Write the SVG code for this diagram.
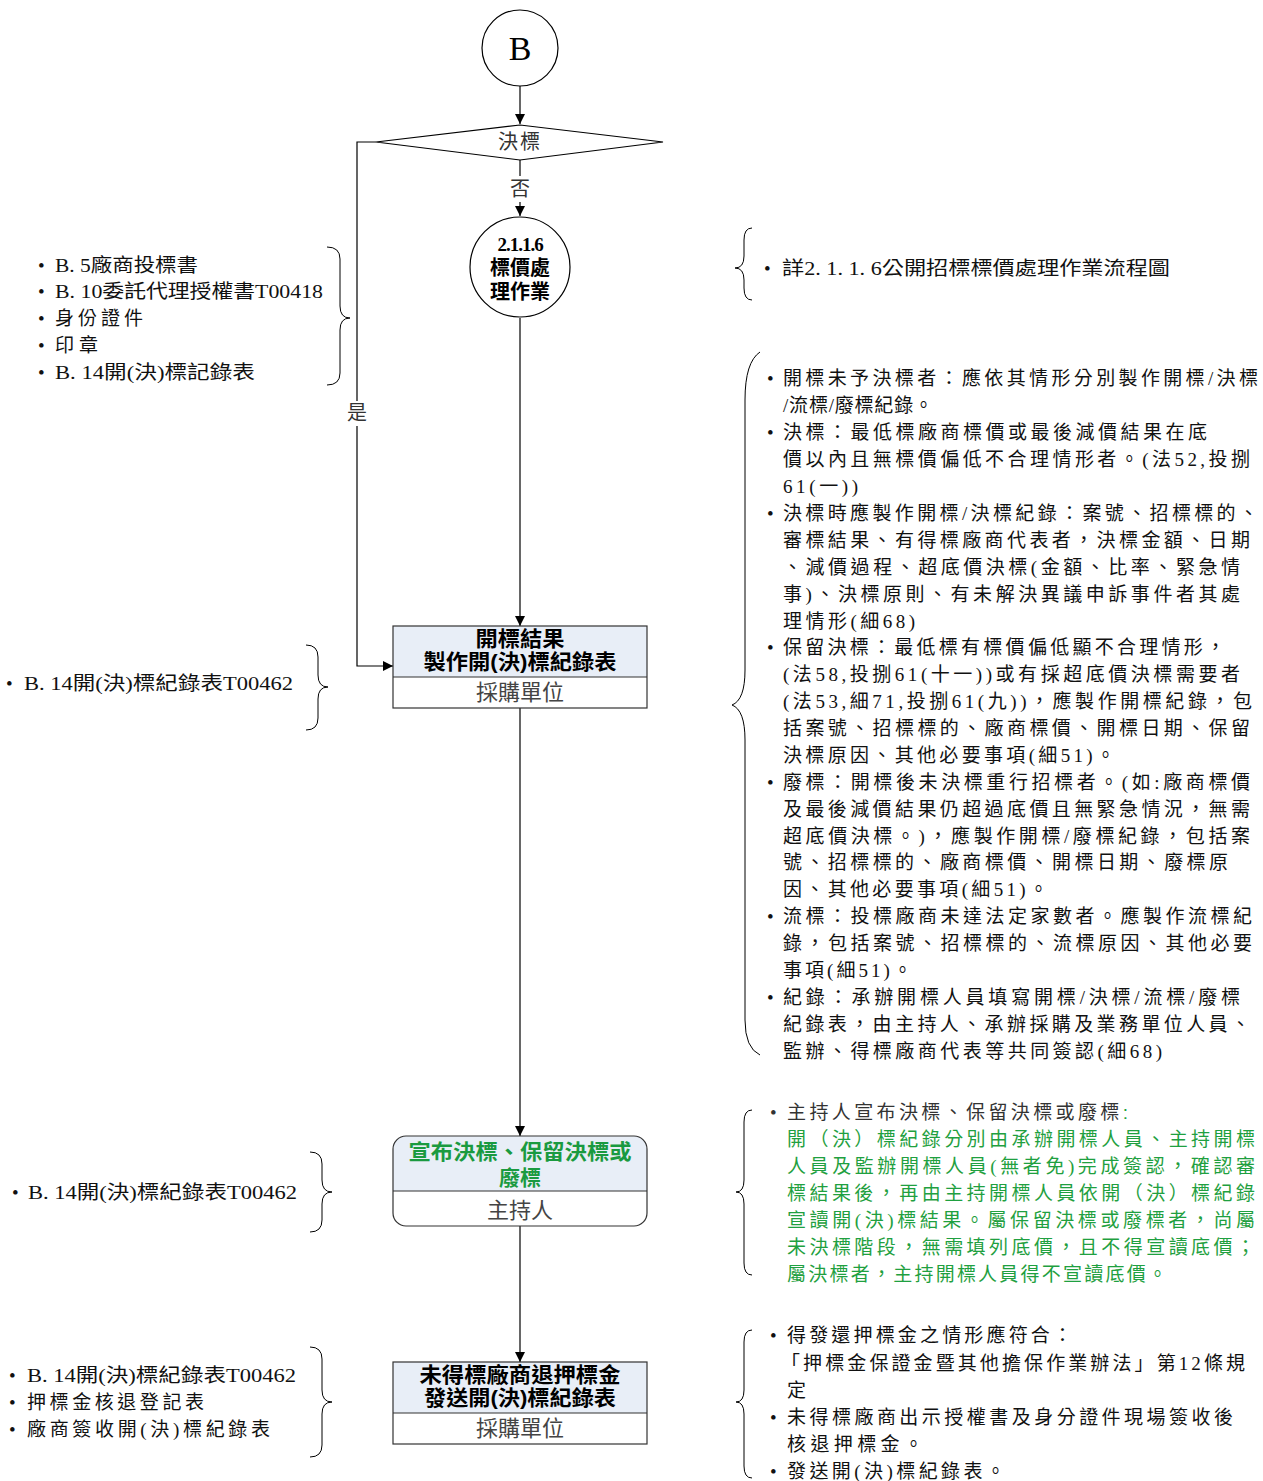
<svg xmlns="http://www.w3.org/2000/svg" width="1263" height="1481" viewBox="0 0 1263 1481">
<style>
.ln{fill:none;stroke:#000;stroke-width:1.2}
.br{fill:none;stroke:#000;stroke-width:1}
.nt{font-family:"Liberation Serif","Noto Sans CJK TC",serif;font-size:19px;fill:#111}
.bt{font-family:"Liberation Sans","Noto Sans CJK TC",sans-serif;font-size:21px;font-weight:bold;fill:#000;text-anchor:middle}
.ft{font-family:"Liberation Sans","Noto Sans CJK TC",sans-serif;font-size:22px;fill:#444;text-anchor:middle}
.hd{fill:#E8EEF7;stroke:none}
.bx{fill:none;stroke:#333;stroke-width:1.2}
.lb{font-family:"Liberation Serif","Noto Sans CJK TC",serif;font-size:20px;fill:#333;text-anchor:middle}
</style>
<defs>
<marker id="ah" viewBox="0 0 10 10" refX="10" refY="5" markerWidth="10" markerHeight="10" markerUnits="userSpaceOnUse" orient="auto">
<path d="M0,0 L10,5 L0,10 Z" fill="#000"/>
</marker>
</defs>

<g id="connectors">
<line class="ln" x1="520" y1="86" x2="520" y2="124" marker-end="url(#ah)"/>
<line class="ln" x1="520" y1="160" x2="520" y2="176"/>
<line class="ln" x1="520" y1="202" x2="520" y2="216" marker-end="url(#ah)"/>
<text class="lb" x="520" y="196">否</text>
<line class="ln" x1="520" y1="318" x2="520" y2="626" marker-end="url(#ah)"/>
<polyline class="ln" points="376,142 357,142 357,401"/>
<polyline class="ln" points="357,426 357,666 393,666" marker-end="url(#ah)"/>
<text class="lb" x="357" y="420">是</text>
<line class="ln" x1="520" y1="708" x2="520" y2="1136" marker-end="url(#ah)"/>
<line class="ln" x1="520" y1="1226" x2="520" y2="1362" marker-end="url(#ah)"/>
</g>

<g id="nodeB">
<circle cx="520" cy="48" r="38" fill="#fff" stroke="#000" stroke-width="1.2"/>
<text x="520" y="60" font-family="Liberation Serif, serif" font-size="34" text-anchor="middle" fill="#000">B</text>
</g>

<g id="decision">
<polygon points="376,142 520,125 663,142 520,160" fill="#fff" stroke="#000" stroke-width="1.2"/>
<text class="lb" x="520" y="149" style="letter-spacing:2px">決標</text>
</g>

<g id="sub2116">
<circle cx="520" cy="267" r="50" fill="#fff" stroke="#000" stroke-width="1.2"/>
<text x="520" y="251" font-family="Liberation Serif, serif" font-weight="bold" font-size="19" text-anchor="middle" fill="#000" letter-spacing="-1">2.1.1.6</text>
<text class="bt" x="520" y="275" style="font-size:20px">標價處</text>
<text class="bt" x="520" y="299" style="font-size:20px">理作業</text>
</g>

<g id="box1">
<rect class="hd" x="393" y="626" width="254" height="51"/>
<rect x="393" y="677" width="254" height="31" fill="#fff"/>
<rect class="bx" x="393" y="626" width="254" height="82"/>
<line class="bx" x1="393" y1="677" x2="647" y2="677"/>
<text class="bt" x="520" y="646" textLength="89" lengthAdjust="spacingAndGlyphs">開標結果</text>
<text class="bt" x="520" y="669" textLength="193" lengthAdjust="spacingAndGlyphs">製作開(決)標紀錄表</text>
<text class="ft" x="520" y="700">採購單位</text>
</g>

<g id="box2">
<clipPath id="c2"><rect x="393" y="1136" width="254" height="90" rx="13"/></clipPath>
<g clip-path="url(#c2)">
<rect class="hd" x="393" y="1136" width="254" height="55"/>
<rect x="393" y="1191" width="254" height="35" fill="#fff"/>
</g>
<rect class="bx" x="393" y="1136" width="254" height="90" rx="13"/>
<line class="bx" x1="393" y1="1191" x2="647" y2="1191"/>
<text class="bt" x="520" y="1159" textLength="223" lengthAdjust="spacingAndGlyphs" style="fill:#1A9A40">宣布決標、保留決標或</text>
<text class="bt" x="520" y="1185" style="fill:#1A9A40">廢標</text>
<text class="ft" x="520" y="1218">主持人</text>
</g>

<g id="box3">
<rect class="hd" x="393" y="1362" width="254" height="51"/>
<rect x="393" y="1413" width="254" height="31" fill="#fff"/>
<rect class="bx" x="393" y="1362" width="254" height="82"/>
<line class="bx" x1="393" y1="1413" x2="647" y2="1413"/>
<text class="bt" x="520" y="1382" textLength="201" lengthAdjust="spacingAndGlyphs">未得標廠商退押標金</text>
<text class="bt" x="520" y="1405" textLength="192" lengthAdjust="spacingAndGlyphs">發送開(決)標紀錄表</text>
<text class="ft" x="520" y="1436">採購單位</text>
</g>

<g id="notesLeft1">
<path class="br" d="M327,247 Q340,247 340,259 L340,306 Q340,318 350,318 Q340,318 340,330 L340,373 Q340,385 327,385"/>
<text class="nt" x="38" y="272">•</text><text class="nt" x="55" y="272" textLength="143" lengthAdjust="spacingAndGlyphs">B. 5廠商投標書</text>
<text class="nt" x="38" y="298">•</text><text class="nt" x="55" y="298" textLength="268" lengthAdjust="spacingAndGlyphs">B. 10委託代理授權書T00418</text>
<text class="nt" x="38" y="325">•</text><text class="nt" x="55" y="325" textLength="88" lengthAdjust="spacing">身份證件</text>
<text class="nt" x="38" y="352">•</text><text class="nt" x="55" y="352" textLength="43" lengthAdjust="spacing">印章</text>
<text class="nt" x="38" y="379">•</text><text class="nt" x="55" y="379" textLength="200" lengthAdjust="spacingAndGlyphs">B. 14開(決)標記錄表</text>
</g>

<g id="notesLeft2">
<path class="br" d="M306,645 Q318,645 318,657 L318,675 Q318,687 328,687 Q318,687 318,699 L318,718 Q318,730 306,730"/>
<text class="nt" x="6" y="690">•</text><text class="nt" x="24" y="690" textLength="269" lengthAdjust="spacingAndGlyphs">B. 14開(決)標紀錄表T00462</text>
</g>

<g id="notesLeft3">
<path class="br" d="M310,1152 Q322,1152 322,1164 L322,1180 Q322,1192 332,1192 Q322,1192 322,1204 L322,1220 Q322,1232 310,1232"/>
<text class="nt" x="12" y="1199">•</text><text class="nt" x="28" y="1199" textLength="269" lengthAdjust="spacingAndGlyphs">B. 14開(決)標紀錄表T00462</text>
</g>

<g id="notesLeft4">
<path class="br" d="M310,1347 Q322,1347 322,1359 L322,1390 Q322,1402 332,1402 Q322,1402 322,1414 L322,1445 Q322,1457 310,1457"/>
<text class="nt" x="9" y="1382">•</text><text class="nt" x="27" y="1382" textLength="269" lengthAdjust="spacingAndGlyphs">B. 14開(決)標紀錄表T00462</text>
<text class="nt" x="9" y="1409">•</text><text class="nt" x="27" y="1409" textLength="177" lengthAdjust="spacing">押標金核退登記表</text>
<text class="nt" x="9" y="1436">•</text><text class="nt" x="27" y="1436" textLength="243" lengthAdjust="spacing">廠商簽收開(決)標紀錄表</text>
</g>

<g id="notesRight1">
<path class="br" d="M752,228 Q744,228 744,240 L744,256 Q744,268 735,268 Q744,268 744,280 L744,288 Q744,300 752,300"/>
<text class="nt" x="764" y="275">•</text><text class="nt" x="782" y="275" textLength="388" lengthAdjust="spacingAndGlyphs">詳2. 1. 1. 6公開招標標價處理作業流程圖</text>
</g>

<g id="notesRight2">
<path class="br" d="M760,352 Q745,362 745,400 L745,670 Q745,700 732,705 Q745,710 745,740 L745,1020 Q745,1048 760,1055"/>
<text class="nt" x="767" y="385">•</text><text class="nt" x="783" y="385" textLength="475" lengthAdjust="spacing">開標未予決標者：應依其情形分別製作開標/決標</text>
<text class="nt" x="783" y="412" textLength="150" lengthAdjust="spacing">/流標/廢標紀錄。</text>
<text class="nt" x="767" y="439">•</text><text class="nt" x="783" y="439" textLength="424" lengthAdjust="spacing">決標：最低標廠商標價或最後減價結果在底</text>
<text class="nt" x="783" y="466" textLength="467" lengthAdjust="spacing">價以內且無標價偏低不合理情形者。(法52,投捌</text>
<text class="nt" x="783" y="493" textLength="75" lengthAdjust="spacing">61(一))</text>
<text class="nt" x="767" y="520">•</text><text class="nt" x="783" y="520" textLength="475" lengthAdjust="spacing">決標時應製作開標/決標紀錄：案號、招標標的、</text>
<text class="nt" x="783" y="547" textLength="467" lengthAdjust="spacing">審標結果、有得標廠商代表者，決標金額、日期</text>
<text class="nt" x="783" y="574" textLength="457" lengthAdjust="spacing">、減價過程、超底價決標(金額、比率、緊急情</text>
<text class="nt" x="783" y="601" textLength="457" lengthAdjust="spacing">事)、決標原則、有未解決異議申訴事件者其處</text>
<text class="nt" x="783" y="628" textLength="132" lengthAdjust="spacing">理情形(細68)</text>
<text class="nt" x="767" y="654">•</text><text class="nt" x="783" y="654" textLength="442" lengthAdjust="spacing">保留決標：最低標有標價偏低顯不合理情形，</text>
<text class="nt" x="783" y="681" textLength="457" lengthAdjust="spacing">(法58,投捌61(十一))或有採超底價決標需要者</text>
<text class="nt" x="783" y="708" textLength="469" lengthAdjust="spacing">(法53,細71,投捌61(九))，應製作開標紀錄，包</text>
<text class="nt" x="783" y="735" textLength="467" lengthAdjust="spacing">括案號、招標標的、廠商標價、開標日期、保留</text>
<text class="nt" x="783" y="762" textLength="332" lengthAdjust="spacing">決標原因、其他必要事項(細51)。</text>
<text class="nt" x="767" y="789">•</text><text class="nt" x="783" y="789" textLength="467" lengthAdjust="spacing">廢標：開標後未決標重行招標者。(如:廠商標價</text>
<text class="nt" x="783" y="816" textLength="467" lengthAdjust="spacing">及最後減價結果仍超過底價且無緊急情況，無需</text>
<text class="nt" x="783" y="843" textLength="467" lengthAdjust="spacing">超底價決標。)，應製作開標/廢標紀錄，包括案</text>
<text class="nt" x="783" y="869" textLength="445" lengthAdjust="spacing">號、招標標的、廠商標價、開標日期、廢標原</text>
<text class="nt" x="783" y="896" textLength="265" lengthAdjust="spacing">因、其他必要事項(細51)。</text>
<text class="nt" x="767" y="923">•</text><text class="nt" x="783" y="923" textLength="469" lengthAdjust="spacing">流標：投標廠商未達法定家數者。應製作流標紀</text>
<text class="nt" x="783" y="950" textLength="469" lengthAdjust="spacing">錄，包括案號、招標標的、流標原因、其他必要</text>
<text class="nt" x="783" y="977" textLength="129" lengthAdjust="spacing">事項(細51)。</text>
<text class="nt" x="767" y="1004">•</text><text class="nt" x="783" y="1004" textLength="457" lengthAdjust="spacing">紀錄：承辦開標人員填寫開標/決標/流標/廢標</text>
<text class="nt" x="783" y="1031" textLength="467" lengthAdjust="spacing">紀錄表，由主持人、承辦採購及業務單位人員、</text>
<text class="nt" x="783" y="1058" textLength="379" lengthAdjust="spacing">監辦、得標廠商代表等共同簽認(細68)</text>
</g>

<g id="notesRight3">
<path class="br" d="M752,1110 Q744,1110 744,1122 L744,1180 Q744,1192 736,1192 Q744,1192 744,1204 L744,1263 Q744,1275 752,1275"/>
<text class="nt" x="770" y="1119" style="fill:#333">•</text>
<text class="nt" x="787" y="1119" textLength="341" lengthAdjust="spacing" style="fill:#333;font-family:'Liberation Sans','Noto Sans CJK TC',sans-serif">主持人宣布決標、保留決標或廢標<tspan style="fill:#1FA040">:</tspan></text>
<text class="nt" x="787" y="1146" textLength="468" lengthAdjust="spacing" style="fill:#1FA040">開（決）標紀錄分別由承辦開標人員、主持開標</text>
<text class="nt" x="787" y="1173" textLength="468" lengthAdjust="spacing" style="fill:#1FA040">人員及監辦開標人員(無者免)完成簽認，確認審</text>
<text class="nt" x="787" y="1200" textLength="468" lengthAdjust="spacing" style="fill:#1FA040">標結果後，再由主持開標人員依開（決）標紀錄</text>
<text class="nt" x="787" y="1227" textLength="468" lengthAdjust="spacing" style="fill:#1FA040">宣讀開(決)標結果。屬保留決標或廢標者，尚屬</text>
<text class="nt" x="787" y="1254" textLength="468" lengthAdjust="spacing" style="fill:#1FA040">未決標階段，無需填列底價，且不得宣讀底價；</text>
<text class="nt" x="787" y="1281" textLength="380" lengthAdjust="spacing" style="fill:#1FA040">屬決標者，主持開標人員得不宣讀底價。</text>
</g>

<g id="notesRight4">
<path class="br" d="M752,1330 Q744,1330 744,1342 L744,1390 Q744,1402 736,1402 Q744,1402 744,1414 L744,1466 Q744,1478 752,1478"/>
<text class="nt" x="770" y="1342">•</text><text class="nt" x="787" y="1342" textLength="285" lengthAdjust="spacing">得發還押標金之情形應符合：</text>
<text class="nt" x="781" y="1370" textLength="464" lengthAdjust="spacing">「押標金保證金暨其他擔保作業辦法」第12條規</text>
<text class="nt" x="787" y="1397">定</text>
<text class="nt" x="770" y="1424">•</text><text class="nt" x="787" y="1424" textLength="446" lengthAdjust="spacing">未得標廠商出示授權書及身分證件現場簽收後</text>
<text class="nt" x="787" y="1451" textLength="136" lengthAdjust="spacing">核退押標金。</text>
<text class="nt" x="770" y="1478">•</text><text class="nt" x="787" y="1478" textLength="218" lengthAdjust="spacing">發送開(決)標紀錄表。</text>
</g>
</svg>
